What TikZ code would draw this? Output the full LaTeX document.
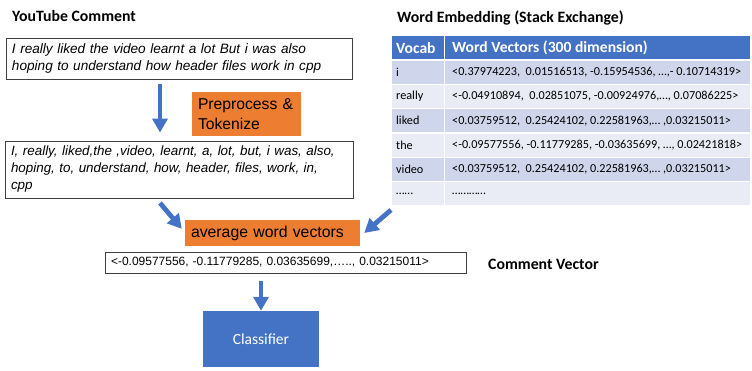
\documentclass[tikz,border=0pt]{standalone}
\usepackage{fontspec}
\setmainfont{Liberation Sans}
\newfontfamily\calib{Carlito}
\usetikzlibrary{arrows.meta}
\definecolor{accentorange}{HTML}{ED7D31}
\definecolor{accentblue}{HTML}{4472C4}
\definecolor{rowdark}{HTML}{CFD5EA}
\definecolor{rowlight}{HTML}{E9EBF5}
\definecolor{boxline}{HTML}{3F3F3F}
\tikzset{
  textbox/.style={draw=boxline, line width=0.9pt, fill=white, inner xsep=6pt, inner ysep=0pt, align=left, anchor=center},
  stepbox/.style={fill=accentorange, inner xsep=6pt, inner ysep=0pt, anchor=center},
  flow/.style={draw=accentblue, line width=4.8pt, -{Triangle[width=15pt,length=14pt]}},
  heading/.style={font=\calib\bfseries\fontsize{15.8}{18}\selectfont, anchor=base west, inner sep=0pt},
  cell/.style={draw=white, line width=1.3pt, inner sep=0pt, anchor=north west},
  celltext/.style={font=\calib\fontsize{12.2}{14}\selectfont, anchor=west, inner sep=0pt},
  headtext/.style={celltext, text=white, font=\calib\bfseries\fontsize{15.6}{18}\selectfont},
}
\begin{document}
\begin{tikzpicture}[x=1pt, y=-1pt]
\useasboundingbox (0,0) rectangle (752,370);

% titles
\node[heading] (ytitle) at (12,21.5) {YouTube Comment};
\node[heading] (etitle) at (397,22.5) {Word Embedding (Stack Exchange)};
\node[heading] (cvtitle) at (488,269) {Comment Vector};

% comment and its tokens
\node[textbox, minimum width=346pt, minimum height=41pt, text width=334pt,
      font=\itshape\fontsize{13.6}{16.5}\selectfont] (comment) at (179,58.5)
  {I really liked the video learnt a lot But i was also\\hoping to understand how header files work in cpp};
\node[stepbox, minimum width=109pt, minimum height=44pt, text width=97pt, align=left,
      font=\fontsize{15.7}{19.5}\selectfont] (prep) at (246.5,114)
  {Preprocess \&\\Tokenize};
\node[textbox, minimum width=346pt, minimum height=57pt, text width=336pt,
      font=\itshape\fontsize{13.4}{17}\selectfont] (tokens) at (179,169.5)
  {I, really, liked,the ,video, learnt,\ a,\ lot, but, i was, also,\\hoping,\ to,\ understand,\ how,\ header,\ files,\ work,\ in,\\cpp};

% averaging step and result
\node[stepbox, minimum width=175pt, minimum height=26pt, text width=163pt, align=left,
      font=\fontsize{15.8}{18}\selectfont] (avg) at (272.5,233)
  {average word vectors};
\node[textbox, minimum width=361pt, minimum height=21pt, text width=349pt,
      font=\fontsize{12}{14}\selectfont] (vec) at (285.5,262.5)
  {<-0.09577556, -0.11779285, 0.03635699,….., 0.03215011>};
\node[fill=accentblue, minimum width=116pt, minimum height=56pt, inner sep=0pt,
      text=white, font=\calib\fontsize{15.5}{18}\selectfont] (cls) at (261,339)
  {Classifier};

% embedding table
\node[cell, fill=accentblue, minimum width=53pt, minimum height=24.3pt] (h1) at (391,35) {};
\node[cell, fill=accentblue, minimum width=306pt, minimum height=24.3pt] (h2) at (444,35) {};
\node[headtext] at ([xshift=5pt]h1.west) {Vocab};
\node[headtext] at ([xshift=8pt]h2.west) {Word Vectors (300 dimension)};
\foreach \w/\v/\c [count=\k] in {
  i/{<0.37974223,\ \ 0.01516513, -0.15954536, …,- 0.10714319>}/rowdark,
  really/{<-0.04910894,\ \ 0.02851075, -0.00924976,…, 0.07086225>}/rowlight,
  liked/{<0.03759512,\ \ 0.25424102, 0.22581963,… ,0.03215011>}/rowdark,
  the/{<-0.09577556, -0.11779285, -0.03635699, …, 0.02421818>}/rowlight,
  video/{<0.03759512,\ \ 0.25424102, 0.22581963,… ,0.03215011>}/rowdark,
  ……/{…………}/rowlight} {
  \node[cell, fill=\c, minimum width=53pt, minimum height=24.3pt] (w\k) at (391,35+24.3*\k) {};
  \node[cell, fill=\c, minimum width=306pt, minimum height=24.3pt] (v\k) at (444,35+24.3*\k) {};
  \node[celltext] at ([xshift=5pt]w\k.west) {\w};
  \node[celltext] at ([xshift=8pt]v\k.west) {\v};
}

% connectors
\coordinate (c1) at (160,84);
\coordinate (c2) at (160,203);
\coordinate (c3) at (391,210);
\draw[flow, shorten >=8pt] (c1) -- (c1 |- tokens.north);
\draw[flow] (c2) -- ([xshift=-3pt,yshift=-9pt]avg.north west);
\draw[flow] (c3) -- ([xshift=4pt]avg.east);
\draw[flow, shorten <=8pt] (vec.south -| cls.north) -- (cls.north);
\end{tikzpicture}
\end{document}
